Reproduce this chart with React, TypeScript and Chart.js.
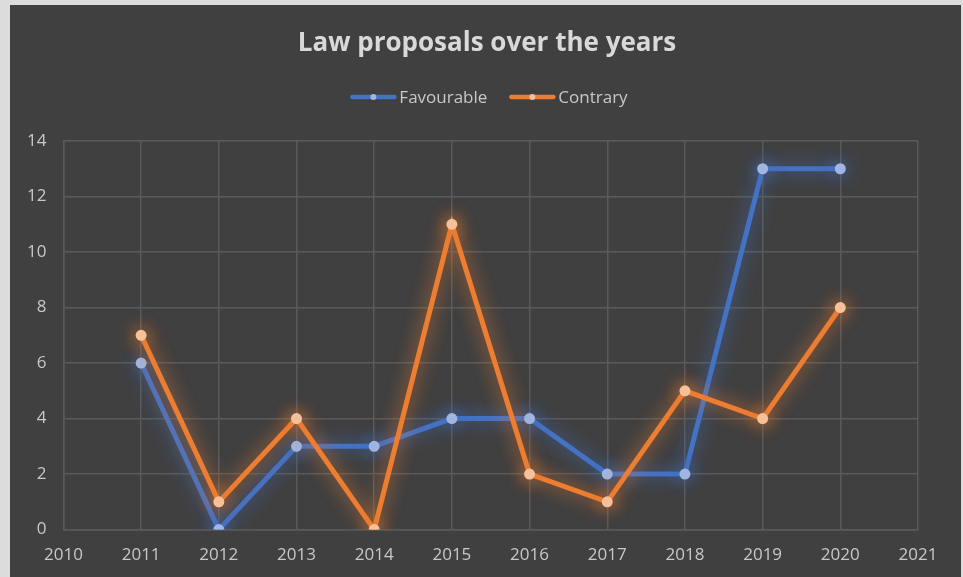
import React, { useEffect, useRef } from "react";
import { Chart, registerables } from "chart.js";

Chart.register(...registerables);

const years = [2011, 2012, 2013, 2014, 2015, 2016, 2017, 2018, 2019, 2020];
const favourable = [6, 0, 3, 3, 4, 4, 2, 2, 13, 13];
const contrary = [7, 1, 4, 0, 11, 2, 1, 5, 4, 8];
const xMin = 2010;
const xMax = 2021;
const yMax = 14;
const titleText = "Law proposals over the years";
const seriesNames = ["Favourable", "Contrary"];

const BLUE = "#4472C4";
const ORANGE = "#ED7D31";
const BLUE_PT = "#9fb6e3";
const ORANGE_PT = "#f6c09a";
const FONT = "'Open Sans', sans-serif";

const glowPlugin = {
  id: "glow",
  beforeDatasetDraw(chart: any, args: any) {
    const ctx = chart.ctx;
    const ds = chart.data.datasets[args.index];
    ctx.save();
    ctx.shadowColor = ds.glowColor;
    ctx.shadowBlur = 18;
    ctx.shadowOffsetX = 0;
    ctx.shadowOffsetY = 0;
  },
  afterDatasetDraw(chart: any) {
    chart.ctx.restore();
  },
};

const headerPlugin = {
  id: "header",
  afterDraw(chart: any) {
    const ctx = chart.ctx;
    ctx.save();
    ctx.fillStyle = "#d9d9d9";
    ctx.font = `bold 26px ${FONT}`;
    ctx.textAlign = "center";
    ctx.textBaseline = "middle";
    ctx.fillText(titleText, 477, 39);

    ctx.font = `17px ${FONT}`;
    const lineW = 46;
    const gap = 3;
    const itemGap = 22;
    const items = [
      { name: seriesNames[0], color: BLUE, pt: BLUE_PT },
      { name: seriesNames[1], color: ORANGE, pt: ORANGE_PT },
    ];
    const widths = items.map((it) => lineW + gap + ctx.measureText(it.name).width);
    const total = widths[0] + widths[1] + itemGap;
    let x = 479 - total / 2;
    const y = 92;
    items.forEach((it, i) => {
      ctx.strokeStyle = it.color;
      ctx.lineWidth = 4.5;
      ctx.lineCap = "round";
      ctx.beginPath();
      ctx.moveTo(x + 2, y);
      ctx.lineTo(x + lineW - 2, y);
      ctx.stroke();
      ctx.fillStyle = it.pt;
      ctx.beginPath();
      ctx.arc(x + lineW / 2, y, 3, 0, Math.PI * 2);
      ctx.fill();
      ctx.fillStyle = "#c8c8c8";
      ctx.textAlign = "left";
      ctx.fillText(it.name, x + lineW + gap, y + 1);
      x += widths[i] + itemGap;
    });
    ctx.restore();
  },
};

export default function App() {
  const ref = useRef<HTMLCanvasElement | null>(null);
  useEffect(() => {
    if (!ref.current) return;
    const chart = new Chart(ref.current, {
      type: "line",
      data: {
        datasets: [
          {
            label: seriesNames[0],
            data: years.map((y, i) => ({ x: y, y: favourable[i] })),
            borderColor: BLUE,
            backgroundColor: BLUE_PT,
            pointBackgroundColor: BLUE_PT,
            pointBorderColor: BLUE_PT,
            borderWidth: 5,
            pointRadius: 3,
            tension: 0,
            order: 2,
            glowColor: "rgba(68,114,196,0.95)",
          } as any,
          {
            label: seriesNames[1],
            data: years.map((y, i) => ({ x: y, y: contrary[i] })),
            borderColor: ORANGE,
            backgroundColor: ORANGE_PT,
            pointBackgroundColor: ORANGE_PT,
            pointBorderColor: ORANGE_PT,
            borderWidth: 5,
            pointRadius: 3,
            tension: 0,
            order: 1,
            glowColor: "rgba(237,125,49,0.95)",
          } as any,
        ],
      },
      options: {
        animation: false,
        responsive: false,
        layout: { padding: { top: 136, left: 0, right: 43, bottom: 3 } },
        plugins: {
          legend: { display: false },
          title: { display: false },
          tooltip: { enabled: false },
        },
        scales: {
          x: {
            type: "linear",
            min: xMin,
            max: xMax,
            ticks: {
              stepSize: 1,
              color: "#c8c8c8",
              font: { family: FONT, size: 17 },
              padding: 15,
              callback: (v: any) => String(v),
            },
            grid: { color: "#5a5a5a", lineWidth: 1.5, drawTicks: false },
            border: { color: "#5a5a5a", width: 1.5 },
          },
          y: {
            min: 0,
            max: yMax,
            ticks: {
              stepSize: 2,
              color: "#c8c8c8",
              font: { family: FONT, size: 17 },
              padding: 17,
            },
            grid: { color: "#5a5a5a", lineWidth: 1.5, drawTicks: false },
            border: { color: "#5a5a5a", width: 1.5 },
          },
        },
      },
      plugins: [glowPlugin, headerPlugin],
    });
    return () => chart.destroy();
  }, []);
  return (
    <div
      style={{
        position: "fixed",
        left: 0,
        top: 0,
        width: 963,
        height: 577,
        background: "#dcdcdc",
        overflow: "hidden",
      }}
    >
      <div
        style={{
          position: "absolute",
          left: 10,
          top: 5,
          width: 951,
          height: 578,
          background: "#404040",
        }}
      >
        <canvas ref={ref} width={951} height={578} style={{ display: "block" }} />
      </div>
    </div>
  );
}
